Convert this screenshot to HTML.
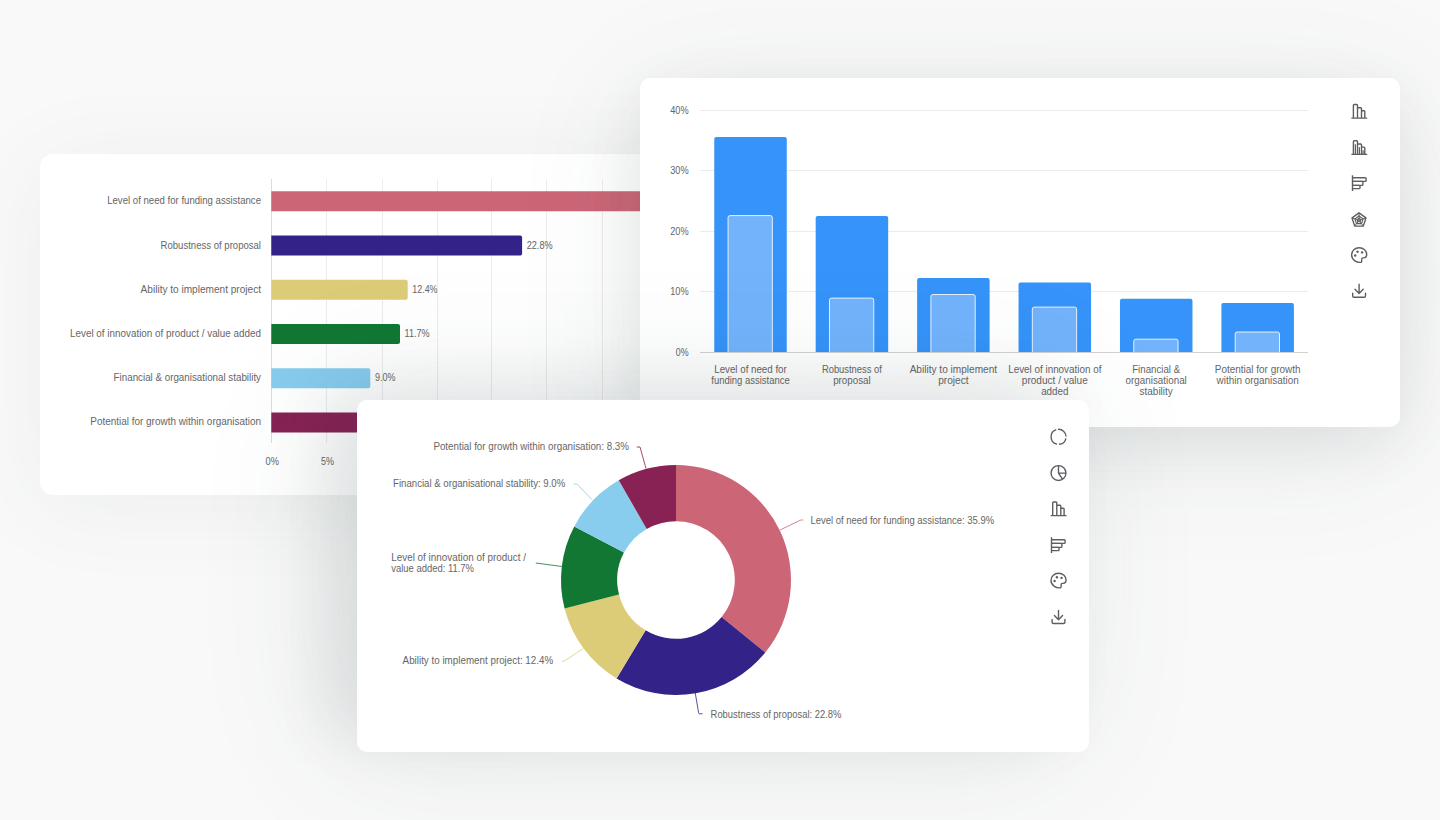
<!DOCTYPE html>
<html><head><meta charset="utf-8"><style>
html,body{margin:0;padding:0}
body{width:1440px;height:820px;overflow:hidden;position:relative;background:#f9f9f9;font-family:"Liberation Sans", sans-serif}
.card{position:absolute;background:#fff;overflow:hidden}
svg text{font-family:"Liberation Sans", sans-serif}
</style></head><body>
<div class="card" style="left:40px;top:154px;width:720px;height:341px;border-radius:13px;box-shadow:0 10px 90px rgba(50,80,70,0.07)"><svg width="1440" height="820" style="position:absolute;left:-40px;top:-154px"><line x1="271.5" y1="179" x2="271.5" y2="443" stroke="#dcdcdc" stroke-width="1"/><line x1="326.5" y1="179" x2="326.5" y2="443" stroke="#ececec" stroke-width="1"/><line x1="382.5" y1="179" x2="382.5" y2="443" stroke="#ececec" stroke-width="1"/><line x1="437.5" y1="179" x2="437.5" y2="443" stroke="#ececec" stroke-width="1"/><line x1="491.5" y1="179" x2="491.5" y2="443" stroke="#ececec" stroke-width="1"/><line x1="546.5" y1="179" x2="546.5" y2="443" stroke="#ececec" stroke-width="1"/><line x1="602.5" y1="179" x2="602.5" y2="443" stroke="#ececec" stroke-width="1"/><line x1="657.5" y1="179" x2="657.5" y2="443" stroke="#ececec" stroke-width="1"/><path d="M271.3 191.30 H664.20 Q666.20 191.30 666.20 193.30 V209.30 Q666.20 211.30 664.20 211.30 H271.3 Z" fill="#CC6677"/><text x="261.0" y="204.3" text-anchor="end" font-size="10" fill="#666666" textLength="153.8" lengthAdjust="spacingAndGlyphs">Level of need for funding assistance</text><path d="M271.3 235.53 H520.10 Q522.10 235.53 522.10 237.53 V253.53 Q522.10 255.53 520.10 255.53 H271.3 Z" fill="#332288"/><text x="261.0" y="248.5" text-anchor="end" font-size="10" fill="#666666" textLength="100.4" lengthAdjust="spacingAndGlyphs">Robustness of proposal</text><text x="526.7" y="248.5" text-anchor="start" font-size="10" fill="#666666" textLength="25.9" lengthAdjust="spacingAndGlyphs">22.8%</text><path d="M271.3 279.76 H405.70 Q407.70 279.76 407.70 281.76 V297.76 Q407.70 299.76 405.70 299.76 H271.3 Z" fill="#DDCC77"/><text x="261.0" y="292.6" text-anchor="end" font-size="10" fill="#666666" textLength="120.4" lengthAdjust="spacingAndGlyphs">Ability to implement project</text><text x="412.3" y="292.6" text-anchor="start" font-size="10" fill="#666666" textLength="25.2" lengthAdjust="spacingAndGlyphs">12.4%</text><path d="M271.3 323.99 H398.00 Q400.00 323.99 400.00 325.99 V341.99 Q400.00 343.99 398.00 343.99 H271.3 Z" fill="#117733"/><text x="261.0" y="336.8" text-anchor="end" font-size="10" fill="#666666" textLength="191.0" lengthAdjust="spacingAndGlyphs">Level of innovation of product / value added</text><text x="404.6" y="336.8" text-anchor="start" font-size="10" fill="#666666" textLength="25.1" lengthAdjust="spacingAndGlyphs">11.7%</text><path d="M271.3 368.22 H368.30 Q370.30 368.22 370.30 370.22 V386.22 Q370.30 388.22 368.30 388.22 H271.3 Z" fill="#88CCEE"/><text x="261.0" y="380.9" text-anchor="end" font-size="10" fill="#666666" textLength="147.4" lengthAdjust="spacingAndGlyphs">Financial &amp; organisational stability</text><text x="374.9" y="380.9" text-anchor="start" font-size="10" fill="#666666" textLength="20.5" lengthAdjust="spacingAndGlyphs">9.0%</text><path d="M271.3 412.45 H360.60 Q362.60 412.45 362.60 414.45 V430.45 Q362.60 432.45 360.60 432.45 H271.3 Z" fill="#882255"/><text x="261.0" y="425.1" text-anchor="end" font-size="10" fill="#666666" textLength="170.7" lengthAdjust="spacingAndGlyphs">Potential for growth within organisation</text><text x="272.3" y="464.6" text-anchor="middle" font-size="10" fill="#666666" textLength="13.4" lengthAdjust="spacingAndGlyphs">0%</text><text x="327.4" y="464.6" text-anchor="middle" font-size="10" fill="#666666" textLength="13.0" lengthAdjust="spacingAndGlyphs">5%</text></svg></div>
<div class="card" style="left:640px;top:78px;width:760px;height:349px;border-radius:10px;box-shadow:0 16px 60px rgba(30,40,60,0.07), 0 20px 130px rgba(50,80,70,0.10)"><svg width="1440" height="820" style="position:absolute;left:-640px;top:-78px"><line x1="700" y1="291.5" x2="1308" y2="291.5" stroke="#ebebeb" stroke-width="1"/><text x="688.6" y="295.1" text-anchor="end" font-size="10" fill="#666666" textLength="18.4" lengthAdjust="spacingAndGlyphs">10%</text><line x1="700" y1="231.5" x2="1308" y2="231.5" stroke="#ebebeb" stroke-width="1"/><text x="688.6" y="234.6" text-anchor="end" font-size="10" fill="#666666" textLength="18.4" lengthAdjust="spacingAndGlyphs">20%</text><line x1="700" y1="170.5" x2="1308" y2="170.5" stroke="#ebebeb" stroke-width="1"/><text x="688.6" y="174.1" text-anchor="end" font-size="10" fill="#666666" textLength="18.4" lengthAdjust="spacingAndGlyphs">30%</text><line x1="700" y1="110.5" x2="1308" y2="110.5" stroke="#ebebeb" stroke-width="1"/><text x="688.6" y="113.6" text-anchor="end" font-size="10" fill="#666666" textLength="18.4" lengthAdjust="spacingAndGlyphs">40%</text><text x="688.6" y="355.8" text-anchor="end" font-size="10" fill="#666666" textLength="12.8" lengthAdjust="spacingAndGlyphs">0%</text><path d="M714.25 352 V139.00 Q714.25 137.00 716.25 137.00 H784.75 Q786.75 137.00 786.75 139.00 V352 Z" fill="#3593F9"/><path d="M728.05 352.5 V217.60 Q728.05 215.60 730.05 215.60 H770.35 Q772.35 215.60 772.35 217.60 V352.5" fill="#72B3FC" stroke="#ffffff" stroke-width="1" stroke-opacity="0.85"/><text x="750.5" y="372.8" text-anchor="middle" font-size="10" fill="#666666" textLength="72.5" lengthAdjust="spacingAndGlyphs">Level of need for</text><text x="750.5" y="383.8" text-anchor="middle" font-size="10" fill="#666666" textLength="78.5" lengthAdjust="spacingAndGlyphs">funding assistance</text><path d="M815.68 352 V218.00 Q815.68 216.00 817.68 216.00 H886.18 Q888.18 216.00 888.18 218.00 V352 Z" fill="#3593F9"/><path d="M829.48 352.5 V300.10 Q829.48 298.10 831.48 298.10 H871.78 Q873.78 298.10 873.78 300.10 V352.5" fill="#72B3FC" stroke="#ffffff" stroke-width="1" stroke-opacity="0.85"/><text x="851.9" y="372.8" text-anchor="middle" font-size="10" fill="#666666" textLength="60.0" lengthAdjust="spacingAndGlyphs">Robustness of</text><text x="851.9" y="383.8" text-anchor="middle" font-size="10" fill="#666666" textLength="37.5" lengthAdjust="spacingAndGlyphs">proposal</text><path d="M917.11 352 V280.00 Q917.11 278.00 919.11 278.00 H987.61 Q989.61 278.00 989.61 280.00 V352 Z" fill="#3593F9"/><path d="M930.91 352.5 V296.50 Q930.91 294.50 932.91 294.50 H973.21 Q975.21 294.50 975.21 296.50 V352.5" fill="#72B3FC" stroke="#ffffff" stroke-width="1" stroke-opacity="0.85"/><text x="953.4" y="372.8" text-anchor="middle" font-size="10" fill="#666666" textLength="87.5" lengthAdjust="spacingAndGlyphs">Ability to implement</text><text x="953.4" y="383.8" text-anchor="middle" font-size="10" fill="#666666" textLength="30.5" lengthAdjust="spacingAndGlyphs">project</text><path d="M1018.54 352 V284.60 Q1018.54 282.60 1020.54 282.60 H1089.04 Q1091.04 282.60 1091.04 284.60 V352 Z" fill="#3593F9"/><path d="M1032.34 352.5 V309.10 Q1032.34 307.10 1034.34 307.10 H1074.64 Q1076.64 307.10 1076.64 309.10 V352.5" fill="#72B3FC" stroke="#ffffff" stroke-width="1" stroke-opacity="0.85"/><text x="1054.8" y="372.8" text-anchor="middle" font-size="10" fill="#666666" textLength="93.2" lengthAdjust="spacingAndGlyphs">Level of innovation of</text><text x="1054.8" y="383.8" text-anchor="middle" font-size="10" fill="#666666" textLength="66.0" lengthAdjust="spacingAndGlyphs">product / value</text><text x="1054.8" y="394.8" text-anchor="middle" font-size="10" fill="#666666" textLength="27.3" lengthAdjust="spacingAndGlyphs">added</text><path d="M1119.97 352 V300.70 Q1119.97 298.70 1121.97 298.70 H1190.47 Q1192.47 298.70 1192.47 300.70 V352 Z" fill="#3593F9"/><path d="M1133.77 352.5 V341.20 Q1133.77 339.20 1135.77 339.20 H1176.07 Q1178.07 339.20 1178.07 341.20 V352.5" fill="#72B3FC" stroke="#ffffff" stroke-width="1" stroke-opacity="0.85"/><text x="1156.2" y="372.8" text-anchor="middle" font-size="10" fill="#666666" textLength="48.0" lengthAdjust="spacingAndGlyphs">Financial &amp;</text><text x="1156.2" y="383.8" text-anchor="middle" font-size="10" fill="#666666" textLength="61.2" lengthAdjust="spacingAndGlyphs">organisational</text><text x="1156.2" y="394.8" text-anchor="middle" font-size="10" fill="#666666" textLength="33.2" lengthAdjust="spacingAndGlyphs">stability</text><path d="M1221.40 352 V305.00 Q1221.40 303.00 1223.40 303.00 H1291.90 Q1293.90 303.00 1293.90 305.00 V352 Z" fill="#3593F9"/><path d="M1235.20 352.5 V334.00 Q1235.20 332.00 1237.20 332.00 H1277.50 Q1279.50 332.00 1279.50 334.00 V352.5" fill="#72B3FC" stroke="#ffffff" stroke-width="1" stroke-opacity="0.85"/><text x="1257.7" y="372.8" text-anchor="middle" font-size="10" fill="#666666" textLength="85.7" lengthAdjust="spacingAndGlyphs">Potential for growth</text><text x="1257.7" y="383.8" text-anchor="middle" font-size="10" fill="#666666" textLength="82.2" lengthAdjust="spacingAndGlyphs">within organisation</text><line x1="700" y1="352.5" x2="1308" y2="352.5" stroke="#d2d2d2" stroke-width="1"/><g transform="translate(1359.2,111.1)" fill="none" stroke="#5b5f63" stroke-width="1.4" stroke-linejoin="round" ><path d="M-7.8 7 H8"/><path d="M-5.8 7 V-5.8 Q-5.8 -6.6 -5 -6.6 H-2.5 Q-1.7 -6.6 -1.7 -5.8 V7"/><path d="M-1.7 -3.4 H1.5 Q2.3 -3.4 2.3 -2.6 V7"/><path d="M2.3 -0.3 H4.8 Q5.6 -0.3 5.6 0.5 V7"/></g><g transform="translate(1359.2,147.4)" fill="none" stroke="#5b5f63" stroke-width="1.4" stroke-linejoin="round" ><path d="M-7.8 7 H8"/><path d="M-5.8 7 V-5.8 Q-5.8 -6.6 -5 -6.6 H-2.5 Q-1.7 -6.6 -1.7 -5.8 V7"/><path d="M-1.7 -3.4 H1.5 Q2.3 -3.4 2.3 -2.6 V7"/><path d="M2.3 -0.3 H4.8 Q5.6 -0.3 5.6 0.5 V7"/><path d="M-3.8 -3.1 V7 M0.2 -0.2 V7 M3.9 2.8 V7" stroke-width="1.2"/></g><g transform="translate(1359.5,183)" fill="none" stroke="#5b5f63" stroke-width="1.4" stroke-linejoin="round" ><path d="M-7 -7.8 V8"/><path d="M-7 -5.3 H5.8 Q6.6 -5.3 6.6 -4.5 V-2.4 Q6.6 -1.6 5.8 -1.6 H-7"/><path d="M-7 -1.6 H2.6 Q3.4 -1.6 3.4 -0.8 V1.6 Q3.4 2.4 2.6 2.4 H-7"/><path d="M-7 2.4 H-0.3 Q0.5 2.4 0.5 3.2 V4.8 Q0.5 5.6 -0.3 5.6 H-7"/></g><g transform="translate(1359,220.2)" fill="none" stroke="#5b5f63" stroke-width="1.4" stroke-linejoin="round" ><polygon points="0.00,-7.30 6.94,-2.26 4.29,5.91 -4.29,5.91 -6.94,-2.26"/><polygon points="0.00,-4.30 4.09,-1.33 2.53,3.48 -2.53,3.48 -4.09,-1.33" stroke-width="1.2"/><polygon points="0.00,-1.90 1.81,-0.59 1.12,1.54 -1.12,1.54 -1.81,-0.59" stroke-width="1.1"/><path d="M0 0 L0.00 -7.30 M0 0 L6.94 -2.26 M0 0 L4.29 5.91 M0 0 L-4.29 5.91 M0 0 L-6.94 -2.26 " stroke-width="1.0"/></g><g transform="translate(1359.1,254.6)" fill="none" stroke="#5b5f63" stroke-width="1.4" stroke-linejoin="round" ><path d="M2.2 7.6 C-2 8.4 -7.5 5.5 -7.5 0.5 C-7.5 -4 -4 -6.8 0 -6.8 C4.5 -6.8 7.6 -3.8 7.6 0 C7.6 2 6.2 3.3 4.5 3.3 H3.8 C3 3.3 2.6 3.9 2.6 4.6 V6.2 C2.6 6.9 2.5 7.4 2.2 7.6 Z"/><circle cx="-1.6" cy="-2.9" r="1.2" fill="#5b5f63" stroke="none"/><circle cx="3" cy="-2.2" r="1.2" fill="#5b5f63" stroke="none"/><circle cx="-3.9" cy="0.9" r="1.2" fill="#5b5f63" stroke="none"/></g><g transform="translate(1359.1,291.4)" fill="none" stroke="#5b5f63" stroke-width="1.4" stroke-linejoin="round" stroke-linecap="round"><path d="M0 -7.2 V2.1 M-4.1 -2.2 L0 2.1 L4.1 -2.2"/><path d="M-6.4 1.9 V4.6 Q-6.4 5.9 -5.1 5.9 H5.1 Q6.4 5.9 6.4 4.6 V1.9"/></g></svg></div>
<div class="card" style="left:357px;top:400px;width:732px;height:351.5px;border-radius:10px;box-shadow:-30px -14px 60px rgba(30,40,60,0.075), -24px -4px 140px rgba(50,80,70,0.12)"><svg width="1440" height="820" style="position:absolute;left:-357px;top:-400px"><path d="M676.00 465.00 A115 115 0 0 1 765.23 652.54 L721.62 617.09 A58.8 58.8 0 0 0 676.00 521.20 Z" fill="#CC6677"/><path d="M765.23 652.54 A115 115 0 0 1 616.58 678.46 L645.62 630.34 A58.8 58.8 0 0 0 721.62 617.09 Z" fill="#332288"/><path d="M616.58 678.46 A115 115 0 0 1 564.56 608.40 L619.02 594.52 A58.8 58.8 0 0 0 645.62 630.34 Z" fill="#DDCC77"/><path d="M564.56 608.40 A115 115 0 0 1 574.26 526.40 L623.98 552.59 A58.8 58.8 0 0 0 619.02 594.52 Z" fill="#117733"/><path d="M574.26 526.40 A115 115 0 0 1 618.76 480.26 L646.73 529.00 A58.8 58.8 0 0 0 623.98 552.59 Z" fill="#88CCEE"/><path d="M618.76 480.26 A115 115 0 0 1 676.00 465.00 L676.00 521.20 A58.8 58.8 0 0 0 646.73 529.00 Z" fill="#882255"/><text x="810.4" y="524.0" text-anchor="start" font-size="10" fill="#666666" textLength="183.8" lengthAdjust="spacingAndGlyphs">Level of need for funding assistance: 35.9%</text><text x="710.6" y="717.7" text-anchor="start" font-size="10" fill="#666666" textLength="130.8" lengthAdjust="spacingAndGlyphs">Robustness of proposal: 22.8%</text><text x="402.6" y="664.4" text-anchor="start" font-size="10" fill="#666666" textLength="150.6" lengthAdjust="spacingAndGlyphs">Ability to implement project: 12.4%</text><text x="393.1" y="487.2" text-anchor="start" font-size="10" fill="#666666" textLength="172.1" lengthAdjust="spacingAndGlyphs">Financial &amp; organisational stability: 9.0%</text><text x="433.4" y="449.9" text-anchor="start" font-size="10" fill="#666666" textLength="195.6" lengthAdjust="spacingAndGlyphs">Potential for growth within organisation: 8.3%</text><text x="391.2" y="561.0" text-anchor="start" font-size="10" fill="#666666" textLength="134.8" lengthAdjust="spacingAndGlyphs">Level of innovation of product /</text><text x="391.2" y="571.8" text-anchor="start" font-size="10" fill="#666666" textLength="82.8" lengthAdjust="spacingAndGlyphs">value added: 11.7%</text><path d="M803.3 520 H800.8 L780 530" fill="none" stroke="#CC6677" stroke-width="1" stroke-opacity="0.8"/><path d="M702.5 713.75 H699.5 Q698.75 713.75 698.6 712.8 L695.25 693" fill="none" stroke="#332288" stroke-width="1" stroke-opacity="0.8"/><path d="M562 661.3 H564 L583.2 648.5" fill="none" stroke="#DDCC77" stroke-width="1" stroke-opacity="0.8"/><path d="M535.8 563 L561.9 566.5" fill="none" stroke="#117733" stroke-width="1" stroke-opacity="0.8"/><path d="M573.7 484.1 H577 L592.2 499.8" fill="none" stroke="#88CCEE" stroke-width="1" stroke-opacity="0.8"/><path d="M636.6 447 H640 L646 468.5" fill="none" stroke="#882255" stroke-width="1" stroke-opacity="0.8"/><g transform="translate(1058.6,436.8)" fill="none" stroke="#5b5f63" stroke-width="1.4" stroke-linejoin="round" ><path d="M-0.65 -7.47 A7.5 7.5 0 0 1 7.50 -0.26 M7.34 1.56 A7.5 7.5 0 0 1 0.39 7.49 M-1.56 7.34 A7.5 7.5 0 0 1 -2.32 -7.13 "/></g><g transform="translate(1058.5,473.1)" fill="none" stroke="#5b5f63" stroke-width="1.4" stroke-linejoin="round" ><circle r="7.45"/><path d="M0 -7.45 V0 H7.45 M0 0 L4.17 6.18"/></g><g transform="translate(1058.5,508.6)" fill="none" stroke="#5b5f63" stroke-width="1.4" stroke-linejoin="round" ><path d="M-7.8 7 H8"/><path d="M-5.8 7 V-5.8 Q-5.8 -6.6 -5 -6.6 H-2.5 Q-1.7 -6.6 -1.7 -5.8 V7"/><path d="M-1.7 -3.4 H1.5 Q2.3 -3.4 2.3 -2.6 V7"/><path d="M2.3 -0.3 H4.8 Q5.6 -0.3 5.6 0.5 V7"/></g><g transform="translate(1058.5,545)" fill="none" stroke="#5b5f63" stroke-width="1.4" stroke-linejoin="round" ><path d="M-7 -7.8 V8"/><path d="M-7 -5.3 H5.8 Q6.6 -5.3 6.6 -4.5 V-2.4 Q6.6 -1.6 5.8 -1.6 H-7"/><path d="M-7 -1.6 H2.6 Q3.4 -1.6 3.4 -0.8 V1.6 Q3.4 2.4 2.6 2.4 H-7"/><path d="M-7 2.4 H-0.3 Q0.5 2.4 0.5 3.2 V4.8 Q0.5 5.6 -0.3 5.6 H-7"/></g><g transform="translate(1058.5,580.1)" fill="none" stroke="#5b5f63" stroke-width="1.4" stroke-linejoin="round" ><path d="M2.2 7.6 C-2 8.4 -7.5 5.5 -7.5 0.5 C-7.5 -4 -4 -6.8 0 -6.8 C4.5 -6.8 7.6 -3.8 7.6 0 C7.6 2 6.2 3.3 4.5 3.3 H3.8 C3 3.3 2.6 3.9 2.6 4.6 V6.2 C2.6 6.9 2.5 7.4 2.2 7.6 Z"/><circle cx="-1.6" cy="-2.9" r="1.2" fill="#5b5f63" stroke="none"/><circle cx="3" cy="-2.2" r="1.2" fill="#5b5f63" stroke="none"/><circle cx="-3.9" cy="0.9" r="1.2" fill="#5b5f63" stroke="none"/></g><g transform="translate(1058.5,617.6)" fill="none" stroke="#5b5f63" stroke-width="1.4" stroke-linejoin="round" stroke-linecap="round"><path d="M0 -7.2 V2.1 M-4.1 -2.2 L0 2.1 L4.1 -2.2"/><path d="M-6.4 1.9 V4.6 Q-6.4 5.9 -5.1 5.9 H5.1 Q6.4 5.9 6.4 4.6 V1.9"/></g></svg></div>
</body></html>
